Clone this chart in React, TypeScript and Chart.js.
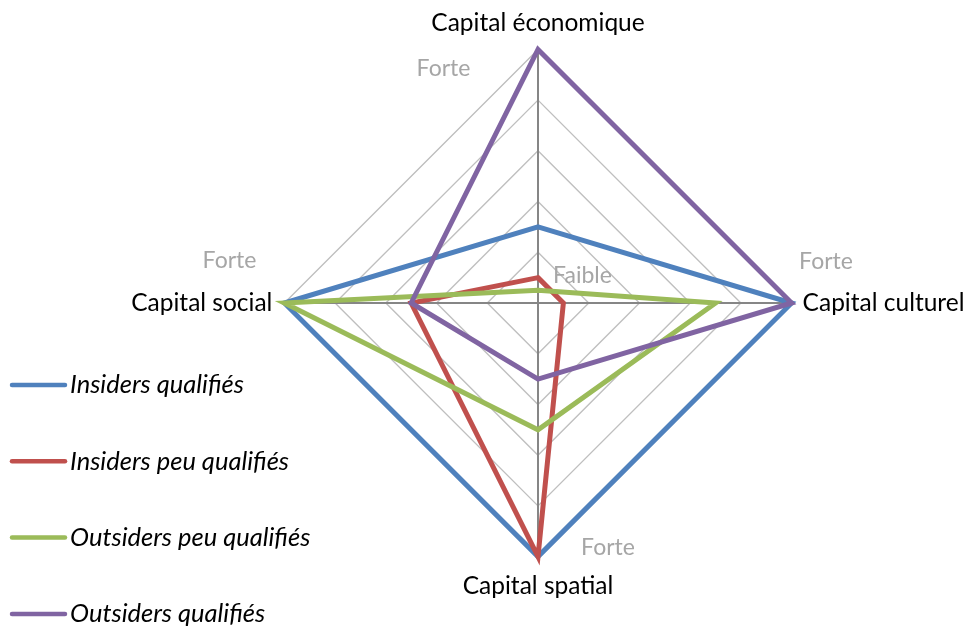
import React, { useEffect, useRef } from "react";
import { Chart, registerables } from "chart.js";

Chart.register(...registerables);

// ---- data ----
const axes = ["Capital économique", "Capital culturel", "Capital spatial", "Capital social"];
const seriesNames = [
  "Insiders qualifiés",
  "Insiders peu qualifiés",
  "Outsiders peu qualifiés",
  "Outsiders qualifiés",
];
const insidersQualifies = [1.5, 5, 5, 5];
const insidersPeuQualifies = [0.5, 0.5, 5, 2.5];
const outsidersPeuQualifies = [0.25, 3.5, 2.5, 5];
const outsidersQualifies = [5, 5, 1.5, 2.5];
const seriesValues = [insidersQualifies, insidersPeuQualifies, outsidersPeuQualifies, outsidersQualifies];
const scaleMin = 0;
const scaleMax = 5;
const scaleStep = 1;
const levelNotes = ["Forte", "Forte", "Forte", "Forte", "Faible"];

// ---- styles / layout ----
const seriesColors = ["#4F81BD", "#C0504D", "#9BBB59", "#8064A2"];
const noteOffsets = [
  [-94.5, -227],
  [-308.5, -35],
  [288, -34],
  [70, 252],
  [44.5, -20],
];
const labelPadding = [12, 11, 15, 12];
const FONT = "Lato";

export default function App() {
  const ref = useRef<HTMLCanvasElement>(null);

  useEffect(() => {
    const canvas = ref.current;
    if (!canvas) return;

    const overlay = {
      id: "overlayTexts",
      afterDraw(chart: any) {
        const ctx = chart.ctx;
        const r = chart.scales.r;
        ctx.save();
        // notes
        ctx.fillStyle = "#A6A6A6";
        ctx.font = `23px ${FONT}`;
        ctx.textAlign = "center";
        ctx.textBaseline = "alphabetic";
        levelNotes.forEach((t, i) => {
          const [dx, dy] = noteOffsets[i];
          ctx.fillText(t, r.xCenter + dx, r.yCenter + dy);
        });
        // legend
        const x0 = 12, x1 = 65, tx = 70, y0 = 385, gap = 76.3;
        seriesNames.forEach((name, i) => {
          const y = y0 + gap * i;
          ctx.strokeStyle = seriesColors[i];
          ctx.lineWidth = 4.5;
          ctx.lineCap = "round";
          ctx.beginPath();
          ctx.moveTo(x0, y);
          ctx.lineTo(x1, y);
          ctx.stroke();
          ctx.fillStyle = "#000";
          ctx.font = `italic 25.5px ${FONT}`;
          ctx.textAlign = "left";
          ctx.textBaseline = "middle";
          ctx.fillText(name, tx, y);
        });
        ctx.restore();
      },
    };

    const chart = new Chart(canvas, {
      type: "radar",
      data: {
        labels: axes,
        datasets: seriesNames.map((name, i) => ({
          label: name,
          data: seriesValues[i],
          borderColor: seriesColors[i],
          backgroundColor: seriesColors[i],
          borderWidth: 5,
          fill: false,
          pointRadius: 0,
          pointHoverRadius: 0,
          order: seriesNames.length - i,
        })),
      },
      options: {
        animation: false,
        responsive: true,
        maintainAspectRatio: false,
        layout: { padding: { top: 7, bottom: 29, left: 0, right: 0 } },
        plugins: {
          legend: { display: false },
          tooltip: { enabled: false },
        },
        elements: { line: { tension: 0, borderJoinStyle: "miter" } },
        scales: {
          r: {
            min: scaleMin,
            max: scaleMax,
            ticks: { display: false, stepSize: scaleStep },
            grid: { color: "#BFBFBF", lineWidth: 1.4 },
            angleLines: { color: "#868686", lineWidth: 2 },
            pointLabels: {
              color: "#000000",
              font: { family: FONT, size: 24.5 },
              padding: (c: any) => labelPadding[c.index] ?? 12,
            },
          },
        },
      },
      plugins: [overlay],
    } as any);

    return () => chart.destroy();
  }, []);

  return (
    <div
      style={{
        position: "fixed",
        left: 0,
        top: 0,
        width: 970,
        height: 632,
        overflow: "hidden",
        background: "#fff",
      }}
    >
      <div style={{ position: "relative", width: 1077, height: 632 }}>
        <canvas ref={ref} />
      </div>
    </div>
  );
}
